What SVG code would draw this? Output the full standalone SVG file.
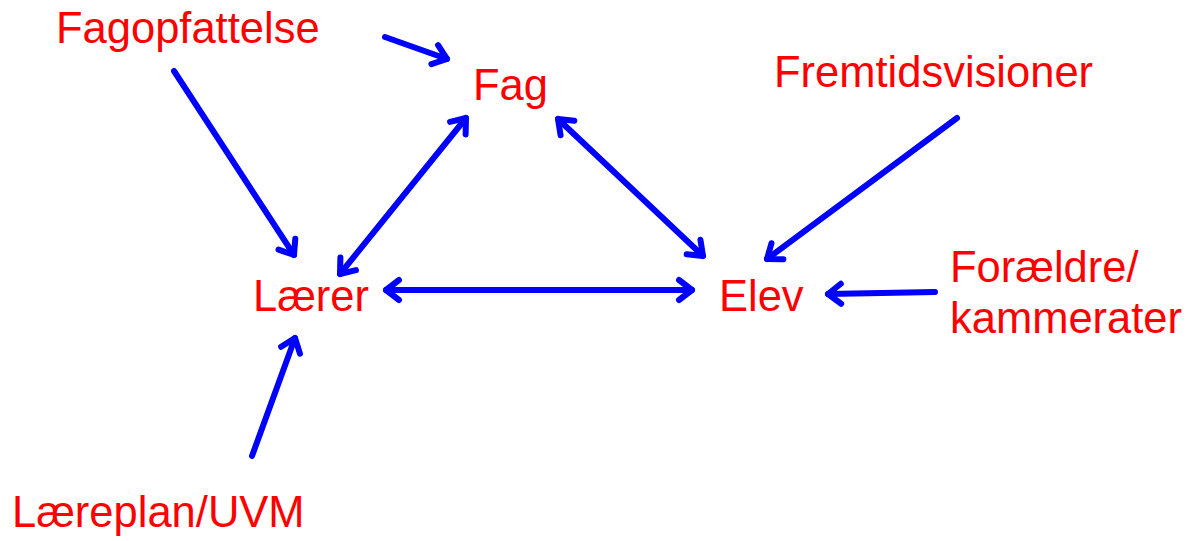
<svg xmlns="http://www.w3.org/2000/svg" width="1195" height="541" viewBox="0 0 1195 541">
<defs>
<style>
.lbl{font-family:"Liberation Sans",Arial,sans-serif;font-size:43.5px;fill:#FF0000}
.arr{stroke:#0000FF;stroke-width:6;fill:none;stroke-linecap:round}
</style>
<marker id="ah" markerUnits="userSpaceOnUse" viewBox="-20 -15 30 30" markerWidth="30" markerHeight="30" refX="0" refY="0" orient="auto-start-reverse" overflow="visible">
<path d="M-13,-10 L0,0 L-13,10" fill="none" stroke="#0000FF" stroke-width="6" stroke-linecap="round" stroke-linejoin="round"/>
</marker>
</defs>
<rect width="1195" height="541" fill="#FFFFFF"/>
<g id="connectors">
<line class="arr" x1="385" y1="37" x2="447" y2="59" marker-end="url(#ah)"/>
<line class="arr" x1="174" y1="71" x2="294" y2="255" marker-end="url(#ah)"/>
<line class="arr" x1="340" y1="274" x2="466" y2="118" marker-start="url(#ah)" marker-end="url(#ah)"/>
<line class="arr" x1="558" y1="119" x2="703" y2="256" marker-start="url(#ah)" marker-end="url(#ah)"/>
<line class="arr" x1="386" y1="290" x2="692" y2="290" marker-start="url(#ah)" marker-end="url(#ah)"/>
<line class="arr" x1="957" y1="118" x2="767" y2="259" marker-end="url(#ah)"/>
<line class="arr" x1="935" y1="292" x2="828" y2="294" marker-end="url(#ah)"/>
<line class="arr" x1="252" y1="456" x2="295" y2="338" marker-end="url(#ah)"/>
</g>
<g id="fagopfattelse"><text class="lbl" x="56" y="43">Fagopfattelse</text></g>
<g id="fag"><text class="lbl" x="473" y="100">Fag</text></g>
<g id="fremtidsvisioner"><text class="lbl" x="774" y="87">Fremtidsvisioner</text></g>
<g id="laerer"><text class="lbl" x="253" y="311">Lærer</text></g>
<g id="elev"><text class="lbl" x="719" y="311">Elev</text></g>
<g id="foraeldre"><text class="lbl" x="950" y="282">Forældre/</text><text class="lbl" x="950" y="333">kammerater</text></g>
<g id="laereplan"><text class="lbl" x="12" y="527">Læreplan/UVM</text></g>
</svg>
